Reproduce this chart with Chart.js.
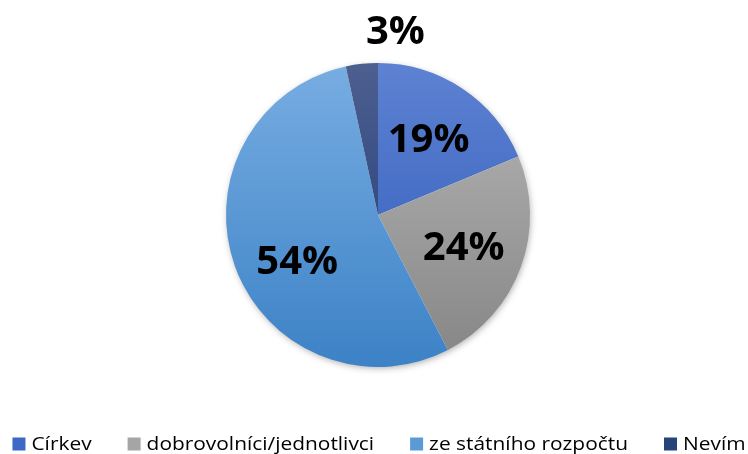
<!DOCTYPE html>
<html lang="cs">
<head>
    <meta charset="UTF-8">
    <title>Pie chart</title>
    <script src="https://cdn.jsdelivr.net/npm/chart.js"></script>
    <style>
        html, body { margin: 0; padding: 0; background: #fff; }
        #wrap { width: 748px; height: 454px; }
    </style>
</head>
<body>
    <div id="wrap"><canvas id="pieChart" width="748" height="454"></canvas></div>

    <script>
        // data (share of answers, %)
        const categories = ['Církev', 'dobrovolníci/jednotlivci', 'ze státního rozpočtu', 'Nevím'];
        const shares = [18.7, 23.7, 54.2, 3.4];
        const shownLabels = ['19%', '24%', '54%', '3%'];

        // gradient stops per slice (top -> bottom) and legend swatch colour
        const topColors = ['#5e82d3', '#b7b7b7', '#78ade2', '#4d5f8f'];
        const bottomColors = ['#2a58b5', '#858585', '#3c82c6', '#1a3675'];
        const swatchColors = ['#3d68c8', '#a5a5a5', '#5b9bd5', '#264478'];

        const FONT = '"Open Sans", "DejaVu Sans", sans-serif';

        function sliceGradient(context) {
            const chart = context.chart;
            const area = chart.chartArea;
            if (!area) return swatchColors[context.dataIndex];
            const g = chart.ctx.createLinearGradient(0, area.top, 0, area.bottom);
            g.addColorStop(0, topColors[context.dataIndex]);
            g.addColorStop(1, bottomColors[context.dataIndex]);
            return g;
        }

        // soft shadow under the whole pie
        const pieShadow = {
            id: 'pieShadow',
            beforeDatasetsDraw(chart) {
                const arc = chart.getDatasetMeta(0).data[0];
                if (!arc) return;
                const ctx = chart.ctx;
                ctx.save();
                ctx.shadowColor = 'rgba(0,0,0,0.35)';
                ctx.shadowBlur = 7;
                ctx.shadowOffsetX = 1;
                ctx.shadowOffsetY = 2;
                ctx.fillStyle = '#ffffff';
                ctx.beginPath();
                ctx.arc(arc.x, arc.y, arc.outerRadius - 1, 0, Math.PI * 2);
                ctx.fill();
                ctx.restore();
            }
        };

        // big bold percent labels
        const sliceLabels = {
            id: 'sliceLabels',
            afterDatasetsDraw(chart, args, opts) {
                const ctx = chart.ctx;
                const meta = chart.getDatasetMeta(0);
                ctx.save();
                ctx.font = 'bold 40px ' + FONT;
                ctx.fillStyle = '#000';
                ctx.textAlign = 'center';
                ctx.textBaseline = 'middle';
                meta.data.forEach((arc, i) => {
                    const p = arc.getProps(['x', 'y', 'startAngle', 'endAngle', 'outerRadius'], true);
                    const mid = (p.startAngle + p.endAngle) / 2;
                    const small = shares[i] < 5;
                    const r = small ? p.outerRadius + 32 : p.outerRadius * 0.6;
                    const nudge = opts.nudge[i] || [0, 0];
                    ctx.fillText(shownLabels[i],
                        p.x + Math.cos(mid) * r + nudge[0],
                        p.y + Math.sin(mid) * r + nudge[1] + 2);
                });
                ctx.restore();
            }
        };

        // legend row along the bottom (text slightly stretched like the original)
        const bottomLegend = {
            id: 'bottomLegend',
            afterDraw(chart) {
                const ctx = chart.ctx;
                ctx.save();
                ctx.font = '19px ' + FONT;
                ctx.textBaseline = 'middle';
                const sx = 1.1;
                const box = 13, gapText = 6, gapItem = 36;
                const widths = categories.map(c => ctx.measureText(c).width * sx);
                let total = 0;
                widths.forEach((w, i) => { total += box + gapText + w + (i ? gapItem : 0); });
                let x = 379 - total / 2;
                const y = 444;
                categories.forEach((c, i) => {
                    ctx.fillStyle = swatchColors[i];
                    ctx.fillRect(x, y - box / 2, box, box);
                    ctx.fillStyle = '#000';
                    ctx.save();
                    ctx.translate(x + box + gapText, y + 1);
                    ctx.scale(sx, 1);
                    ctx.fillText(c, 0, 0);
                    ctx.restore();
                    x += box + gapText + widths[i] + gapItem;
                });
                ctx.restore();
            }
        };

        const ctx = document.getElementById('pieChart').getContext('2d');
        const chart = new Chart(ctx, {
            type: 'pie',
            data: {
                labels: categories,
                datasets: [{
                    data: shares,
                    backgroundColor: sliceGradient,
                    borderWidth: 0
                }]
            },
            options: {
                responsive: false,
                animation: false,
                layout: { padding: { top: 63, bottom: 87, left: 8, right: 0 } },
                plugins: {
                    legend: { display: false },
                    tooltip: { enabled: false },
                    sliceLabels: { nudge: [[0, 0], [0, 0], [5, 15], [37, -1]] }
                }
            },
            plugins: [pieShadow, sliceLabels, bottomLegend]
        });
    </script>
</body>
</html>
